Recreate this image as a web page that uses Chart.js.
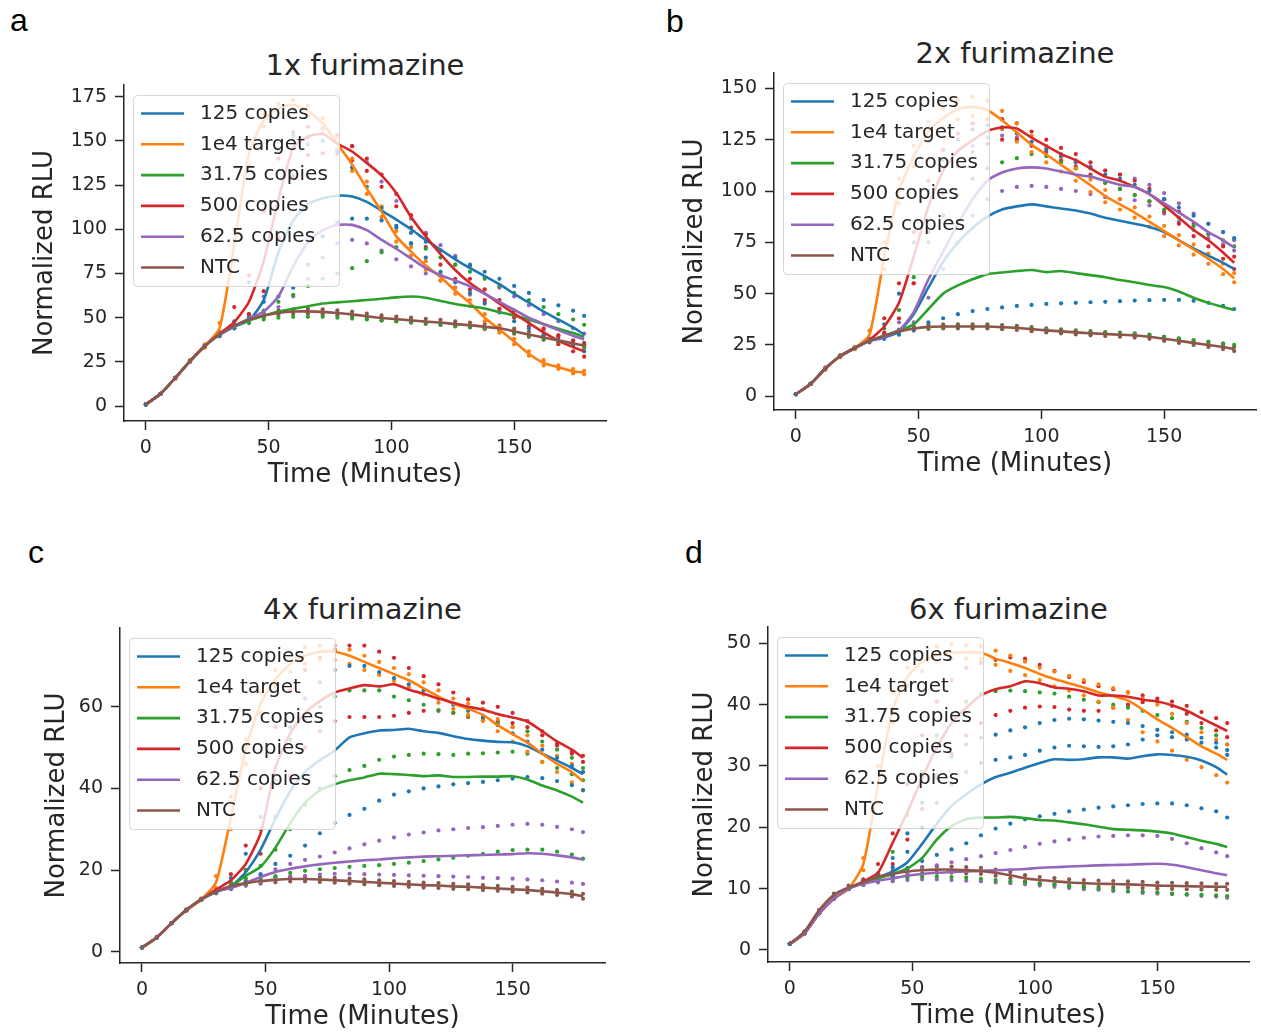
<!DOCTYPE html>
<html><head><meta charset="utf-8">
<script src="https://cdn.jsdelivr.net/npm/chart.js@4.4.1/dist/chart.umd.min.js"></script>
<style>
html,body{margin:0;padding:0;width:1261px;height:1036px;overflow:hidden;background:#fff;}
body{position:relative;font-family:"DejaVu Sans",sans-serif;}
.plet{position:absolute;font-family:"Liberation Sans",Arial,sans-serif;font-size:32px;line-height:1;color:#000;}
.ttl{position:absolute;font-family:"DejaVu Sans",sans-serif;font-size:29px;color:#262626;transform:translate(-50%,-50%);white-space:nowrap;line-height:normal;}
canvas{position:absolute;}
</style></head><body>
<div class="plet" style="left:10px;top:4px">a</div>
<div class="plet" style="left:666px;top:5px">b</div>
<div class="plet" style="left:28px;top:536px">c</div>
<div class="plet" style="left:685px;top:536px">d</div>
<script>
// ---------------- DATA ----------------
const minutes = [0,6,12,18,24,30,36,42,48,54,60,66,72,78,84,90,96,102,108,114,120,126,132,138,144,150,156,162,168,174,178.5];
const seriesNames = ['125 copies','1e4 target','31.75 copies','500 copies','62.5 copies','NTC'];
const xTicks = [0,50,100,150];
const aTicks = [0,25,50,75,100,125,150,175];
const bTicks = [0,25,50,75,100,125,150];
const cTicks = [0,20,40,60];
const dTicks = [0,10,20,30,40,50];
const panelTitles = ['1x furimazine','2x furimazine','4x furimazine','6x furimazine'];

// Panel a (1x) — mean lines
const a125 = [1,7,16,25.5,34,40.5,45,48.5,60,87,105,114,117.5,119,118.5,115.5,110.5,105.5,100,94,88.5,83,78,73.5,69,63.5,58.5,53.5,49,44.5,40.5];
const a1e4 = [1,7,16,25.5,34,44,91,143,161.5,168.5,170.4,167,160,148.4,136.6,123,110,96,87.4,79.5,73,65.3,58.3,50,43.3,36.6,29.6,24.4,22,19.7,19];
const a3175 = [1,7,16,25.5,34,40.5,45,48.5,51,53.5,55,56.5,58,58.7,59.3,60,60.7,61.5,62,61.3,59.5,57.8,56.5,55.2,53.2,51.3,49,46.3,43.7,41.3,39.2];
const a500 = [1,7,16,25.5,34,41,47.5,59,82,117,146,152.5,154,148.5,144,137.5,130.5,120.5,107,96,86,77,69.6,63.8,58,52.3,47,41.7,37,33.4,31];
const a625 = [1,7,16,25.5,34,40.5,45,49.5,53.5,62,79,92.5,99.5,102.5,102.5,99.5,94,89,83.5,78,74,71,67.7,63.5,59,54.5,50,46.5,43,39.8,37.7];
const aNTC = [1,7,16,25.5,34,40.5,45.5,49,51.3,52.7,53.5,53.6,53.3,52.7,51.9,50.8,49.8,49.2,48.5,47.8,47.3,46.4,45.8,44.9,44,42.3,40.5,38.8,37.2,35.5,34.3];
// Panel a replicates
const a125r1 = [1,7,16,25.5,34,40,44,50,59,62,67,80,96,104,106,106,105,102,98,93,88,84,80,76,72,68,64,60,57,54,51];
const a125r2 = [1,7,16,25.5,34,41,48,70,115,145,153,152,150,144,135,124,112,101,92,84,76,70,64,58,53,48,44,40,37,34,31];
const a1e4r1 = [1,7,16,26,35,47,100,150,165,171,173,170,163,152,140,127,113,99,90,82,75,67,60,52,45,38,31,26,23,21,20];
const a1e4r2 = [1,7,15.5,25,33,42,82,136,158,166,168,164,157,145,133,120,107,93,85,77,71,63.5,56.5,48,41.5,35,28.5,23,21,18.5,18];
const a3175r1 = [1,7,16,25.5,34,41,46,50,54,59,63,68,72,75,78,82,87,90,92,89,84,80,76,72,68,64,60,56,52,49,46];
const a3175r2 = [1,7,16,25.5,34,40,44,47,49,50,50.5,50.5,50.5,50,49.5,49,48.5,48,47.5,47,46,45.5,45,44,43,41.5,40,38,36.5,35,33.5];
const a500r1 = [1,7,16,25.5,34,42,56,74,110,140,155,158,157,153,147,140,131,120,108,97,88,80,72,66,60,54,49,44,40,37,35];
const a500r2 = [1,7,16,25.5,34,40.5,46,52,65,95,130,142,143,143,139,133,124,113,101,90,80,72,66,60,55,50,45,40,35,31,28];
const a625r1 = [1,7,16,25.5,34,41,46,52,62,95,130,148,154,153,147,138,127,116,106,98,91,85,79,73,67,62,57,52,48,44,41];
const a625r2 = [1,7,16,25.5,34,40,45,48.5,52,56,62,72,84,92,94,92,88,83,79,75,71,67,63,59,55,51,47,43,40,37,34];
const aNTCr1 = [1,7,16,26,34.5,41.5,46.5,50,52.5,54,54.8,55,54.8,54.2,53.4,52.3,51.3,50.7,50,49.3,48.8,47.9,47.3,46.4,45.5,43.8,42,40.3,38.7,37,35.8];
const aNTCr2 = [1,7,15.5,25,33.5,39.5,44.5,48,50.2,51.5,52.3,52.4,52,51.4,50.6,49.5,48.5,47.9,47.2,46.5,46,45.1,44.5,43.6,42.7,41,39.2,37.5,35.9,34.2,33];

// Panel b (2x) — mean lines
const b125 = [1,6,13.5,19.5,23.5,27,28.5,31.5,40,53,65.5,75,82,87.5,91,92.5,93.5,92.5,91.5,90.5,89,87,85.5,84,82.5,80,76,72,68.5,65,62];
const b1e4 = [1,6,13.5,19.5,23.5,30,68,100,117,129,135.5,140,141,139.5,134.5,128.5,122.5,117.8,112.8,107.8,102.8,97.5,93.5,89.5,85,80.5,76,71.5,67,62,57.5];
const b3175 = [1,6,13.5,19.5,23.5,27,29.5,32,35,42.5,50,54,57,59.5,60.3,61,61.5,60.5,61,60,59,58,56.6,55.5,54.2,53.2,51,48,45.5,43.5,42];
const b500 = [1,6,13.5,19.5,23.5,27.5,34,45.5,68,92.5,110,119.6,124.7,129.3,131,130.5,126,122,118,115,111,107,105,102,98.5,93,87,81,76,70,65];
const b625 = [1,6,13.5,19.5,23.5,27,29,32,41,57,70.5,84,96,105,109,111,111.5,111,109.5,108,107,105,103,102,98.5,94,89.5,85,80,76,72.5];
const bNTC = [1,6,13.5,19.5,23.5,27,29.5,31.5,33,33.8,34,34,34,34,33.7,33.3,32.7,32.1,31.6,31.1,30.7,30.3,30,29.6,29,28,27,26,25,24,23];
// Panel b replicates
const b125r1 = [1,6,13.5,19.5,23.5,27,28,30,32.5,36,38,40,41.5,42.5,43.3,44,44.5,45,45.3,45.5,45.8,46,46.3,46.6,46.8,47,47,46.5,45.5,44,42.5];
const b125r2 = [1,6,13.5,19.5,23.5,28,35,50,75,100,115,125,130,132,131,128,124,120,117,114,111,108,106,103,100,96,92,88,84,80,77];
const b1e4r1 = [1,6,14,20,24,32,75,106,122,134,140,144.5,146,144,139,133,127,122,116.5,111,105.5,100.5,96,92,87.5,83,78.5,74,69.5,64.5,60];
const b1e4r2 = [1,6,13,19,23,28,62,94,112,124,131,135,136.5,135,130,124,119,114,109.5,105,99.5,94.5,91,87,82.5,78,73.5,69,64.5,59.5,55.5];
const b3175r1 = [1,6,13.5,19.5,23.5,28,33,42,58,75,88,98,106,111,114,116,118,117,114,111,107,104,101,98,95,91,87,83,79,76,73];
const b3175r2 = [1,6,13.5,19.5,23.5,27,29,31,32.5,33.5,34,34,34,34,33.8,33.5,33,32.5,32,31.5,31.2,31,30.7,30.3,29.8,29,28.2,27.4,26.6,25.8,25];
const b500r1 = [1,6,13.5,19.5,23.5,28,38,55,80,105,120,128,133,135,135,133,129,125,121,118,114,110,108,105,101,96,90,84,79,73,68];
const b500r2 = [1,6,13.5,19.5,23.5,27,31,38,55,80,99,112,119,123,125,125,122,119,115,112,108,104,101,98,95,90,84,78,73,67,62];
const b625r1 = [1,6,13.5,19.5,23.5,28,30,36,55,80,100,115,122,126,127,126,124,121,118,115,112,110,108,106,103,99,94,89,84,80,76];
const b625r2 = [1,6,13.5,19.5,23.5,27,28.5,31,36,48,62,75,88,96,100,102,102.5,102,101,100,98.5,97,96,95.5,93,89,85,81,77,74,71];
const bNTCr1 = [1,6,14,20,24,27.8,30.3,32.5,34,34.8,35,35,35,35,34.7,34.3,33.7,33.1,32.6,32.1,31.7,31.3,31,30.6,30,29,28,27,26,25,24];
const bNTCr2 = [1,6,13,19,23,26.2,28.7,30.5,32,32.8,33,33,33,33,32.7,32.3,31.7,31.1,30.6,30.1,29.7,29.3,29,28.6,28,27,26,25,24,23,22];

// Panel c (4x) — mean lines
const c125 = [1,3.5,7,10.2,12.8,14.7,16,19.5,25,32.5,39.3,44.1,46.9,49.3,52.5,53.5,54.2,54.3,54.6,54,53.6,52.8,52.1,51.7,51.4,51.3,50.3,48.5,46.8,45,43.5];
const c1e4 = [1,3.5,7,10.2,12.8,17,33,49.5,60.8,66.7,70.5,72.5,73.5,73.5,72.5,71,69.5,68,66.5,64.5,62.5,60.8,59.5,58,55.5,53.3,51.2,48.5,46,44,41.7];
const c3175 = [1,3.5,7,10.2,12.8,14.7,16,18.6,20.8,25.5,31.5,36.5,39.5,41,42,42.7,43.6,43.5,43.3,43,43.2,42.8,42.8,42.9,42.9,43,42.2,40.7,39.5,38,36.5];
const c500 = [1,3.5,7,10.2,12.8,15.2,17.5,21.5,29,45,53.5,58.5,61.4,63.5,64.5,65.3,65,65.5,64.2,63.2,62,61,60,59.3,58.2,57.4,56.4,54,51.5,49.5,47.5];
const c625 = [1,3.5,7,10.2,12.8,14.7,15.6,16.8,18.3,19.5,20.3,20.9,21.4,21.8,22.1,22.4,22.6,22.9,23.1,23.3,23.4,23.5,23.6,23.7,23.8,23.9,24.1,24,23.6,23.1,22.6];
const cNTC = [1,3.5,7,10.2,12.8,14.7,16.1,16.8,17.3,17.6,17.8,17.8,17.7,17.5,17.3,17.1,16.9,16.7,16.5,16.3,16.2,16,15.9,15.7,15.5,15.3,15.1,14.8,14.5,14.1,13.6];
// Panel c replicates
const c125r1 = [1,3.5,7,10.2,12.8,14.5,15.5,17,19,21.5,23.5,26,29,31.5,33.5,35,37,38.5,39.3,40,40.5,41,41.3,41.6,42,42.4,42.8,42.5,41.8,40.8,39.6];
const c125r2 = [1,3.5,7,10.2,12.8,15,18,24,33,45,55,62,66,69,70,70,68.5,67,65.5,64,62,60.5,59,57.5,55.5,53.5,51.5,49.5,47.5,45.5,44];
const c1e4r1 = [1,3.5,7,10.3,13,18.5,38,52,63.5,69,72.5,74.5,75,75,74,72.5,71,69.5,68,66,64,62,60.8,59.5,57,55,53,50.5,48,46,44];
const c1e4r2 = [1,3.5,7,10.1,12.6,15.5,30,46,58.5,65,68.5,70.5,71.5,71.5,70.5,69,67.8,66.3,64.8,63,61,59.5,58,56.5,54,51.5,49,46.5,44,41.5,39.5];
const c3175r1 = [1,3.5,7,10.2,12.8,15,17,20,30,42,52,57,60,62.5,64,64,64,62.5,61.6,60.5,59.2,58.6,57.8,56.7,56,55,54,51.5,49.5,47.5,45];
const c3175r2 = [1,3.5,7,10.2,12.8,14.7,16,18,21,25,30,36,40,43,44.5,45.5,47,47.8,48.2,48.5,48.4,48.2,48.5,48.6,48.8,49,48.5,46.5,45,43.5,42];
const c3175r3 = [1,3.5,7,10.2,12.8,14.5,15.5,16.5,17.5,18.5,19.3,19.8,20.2,20.5,20.8,21,21.2,21.5,21.8,22.2,22.6,23,23.5,24,24.5,24.9,25,25,24.5,23.8,22.8];
const c500r1 = [1,3.5,7,10.2,12.8,15.5,19,26,40,55,64,69,72,74,75,75,73.5,72,69.5,67.5,65.5,63.5,61.8,61,60,58.5,56.5,54,50.5,49,48];
const c500r2 = [1,3.5,7,10.2,12.8,15,17,20,24,33,43,50,54,56.5,57.5,57.5,57.5,57.8,58.5,59,59,58.5,57.5,57,56.5,56,55,53,51,48.5,46.5];
const c625r1 = [1,3.5,7,10.2,12.8,14.7,15.8,17.2,18.8,20.2,21.5,22.5,23.3,24.3,25.3,26.3,27.2,28,28.7,29.2,29.7,30,30.3,30.5,30.8,31.1,31.3,31.1,30.6,30,29.3];
const c625r2 = [1,3.5,7,10.2,12.8,14.5,15.3,16.2,17,17.6,18.2,18.6,18.9,19.1,19.1,19,18.9,18.8,18.7,18.6,18.5,18.4,18.3,18.1,18,17.9,17.7,17.5,17.2,16.9,16.6];
const cNTCr1 = [1,3.5,7,10.4,13,15.1,16.6,17.4,17.9,18.2,18.4,18.4,18.3,18.1,17.9,17.7,17.5,17.3,17.1,16.9,16.8,16.6,16.5,16.3,16.1,15.9,15.7,15.4,15.1,14.7,14.2];
const cNTCr2 = [1,3.5,7,10,12.6,14.3,15.6,16.2,16.7,17,17.2,17.2,17.1,16.9,16.7,16.5,16.3,16.1,15.9,15.7,15.6,15.4,15.3,15.1,14.9,14.7,14.5,14.2,13.9,13.5,13];

// Panel d (6x) — mean lines
const d125 = [1,2.7,6,8.4,10,11,11.8,12.8,14.3,17.3,20.6,23.5,25.4,27,28.2,28.9,29.7,30.5,31.1,31,31.1,31.4,31.4,31.2,31.6,31.9,31.8,31.5,30.9,29.8,28.6];
const d1e4 = [1,2.7,6,8.4,10,14,27,39.2,44.5,47,48.2,48.5,48.5,48.5,47.5,46.8,46,45,44.2,43.5,42.8,42,41.4,40.7,39.2,37.6,36.2,34.7,33.2,32,31];
const d3175 = [1,2.7,6,8.4,10,11,11.7,12.4,13.3,15,18,20.2,21.3,21.6,21.6,21.7,21.5,21.2,21.1,20.8,20.5,20.1,19.7,19.6,19.5,19.3,19,18.4,17.8,17.3,16.8];
const d500 = [1,2.7,6,8.4,10,11.2,12.6,17.5,22.5,28,33,37,39.5,41.5,42.5,43,43.8,43.5,42.8,42.6,42.2,41.5,41.5,41.3,40.8,40.5,39.9,39,37.8,36.6,35.7];
const d625 = [1,2.7,6,8.4,10,10.8,11.3,11.7,12.1,12.4,12.6,12.7,12.8,12.9,13,13.1,13.2,13.4,13.5,13.6,13.7,13.8,13.85,13.9,14,14.05,13.9,13.5,13,12.5,12.2];
const dNTC = [1,3,6.5,9,10.2,11,12,12.4,12.8,13,13.1,13.1,13,12.9,12.6,12.2,11.7,11.4,11.2,11,10.9,10.8,10.75,10.7,10.6,10.5,10.45,10.4,10.35,10.3,10.3];
// Panel d replicates
const d125r1 = [1,2.7,6,8.4,10,11.2,12.5,15,19,24,28.5,31.5,33.5,34.6,35.1,35.8,36.3,37,37.5,37.7,37.6,37.4,37.2,37,36.5,35.9,35.5,35.1,34.6,33.8,32.6];
const d125r2 = [1,2.7,6,8.4,10,11,12,13.5,16,20,24,27,29,30.5,31,31.4,31.8,32.5,33,33.3,33.2,33.1,33.2,33.5,34.3,35,34.7,34.3,33.8,33,31.8];
const d125r3 = [1,2.7,6,8.4,10,10.9,11.4,12.2,13.3,14.5,15.5,16.4,17.4,18.7,19.8,20.6,21.3,21.8,22.2,22.6,22.9,23.2,23.4,23.6,23.8,23.9,23.9,23.6,23.1,22.6,21.6];
const d1e4r1 = [1,2.7,6,8.4,10,15,30,42,46,48.5,49.5,49.8,49.7,49.5,48.8,48,47,46,45.4,44.7,44,43.3,42.7,42,41,40,38.5,37,35.5,34.3,33.5];
const d1e4r2 = [1,2.7,6,8.4,10,13,24,37,43,45.5,47,47.5,47.5,47.5,46.5,45.5,44.8,44,43,42.3,41.5,40.5,39.5,37.5,35.5,34,32.5,31,29.8,28.5,27.3];
const d3175r1 = [1,2.7,6,8.4,10,11.2,12.5,16,22,29,35,38.5,40.5,41.7,42.2,42.3,42.2,42,41.8,41.3,40.8,40.4,40,39.5,39,38.3,37.8,37.2,36.2,35,33.5];
const d3175r2 = [1,2.7,6,8.4,10,10.8,11.3,11.6,11.8,12,12,11.9,11.8,11.6,11.4,11.2,11,10.8,10.6,10.4,10.2,10,9.8,9.6,9.5,9.4,9.2,9.1,9,8.9,8.8];
const d500r1 = [1,2.7,6,8.4,10,11.5,14,19,27,35,40.5,44,46,46.8,47.3,47.7,47.5,46.5,45.5,44.5,43.7,43,42.5,42,41.5,41,40.5,39.8,38.8,37.8,37];
const d500r2 = [1,2.7,6,8.4,10,11,12,14,18,23,28,32,35,37,38.3,39,39.5,39.7,39.6,39.2,39,39,39.5,40,40.4,40.5,39.8,38.5,37,35.8,34.7];
const d625r1 = [1,2.7,6,8.4,10,10.8,11.4,12,12.6,13.2,13.8,14.3,14.8,15.3,15.8,16.3,16.8,17.3,17.7,18,18.3,18.5,18.6,18.7,18.7,18.6,18.1,17.4,16.6,15.9,15.3];
const d625r2 = [1,2.7,6,8.4,10,10.6,11,11.2,11.4,11.5,11.5,11.4,11.3,11.2,11,10.9,10.7,10.5,10.3,10.1,9.9,9.8,9.6,9.5,9.3,9.2,9.1,9,8.8,8.7,8.5];
const dNTCr1 = [1,3,6.5,9.2,10.5,11.4,12.4,12.9,13.3,13.5,13.6,13.6,13.5,13.4,13.1,12.7,12.2,11.9,11.7,11.5,11.4,11.3,11.25,11.2,11.1,11,10.95,10.9,10.85,10.8,10.8];
const dNTCr2 = [1,3,6.5,8.8,9.9,10.6,11.6,12,12.3,12.5,12.6,12.6,12.5,12.4,12.1,11.7,11.2,10.9,10.7,10.5,10.4,10.3,10.25,10.2,10.1,10,9.95,9.9,9.85,9.8,9.8];

// ---------------- STYLE / LAYOUT ----------------
const colors = ['#1f77b4','#ff7f0e','#2ca02c','#d62728','#9467bd','#8c564b'];
const INK = '#262626';
const panels = [
  {means:[a125,a1e4,a3175,a500,a625,aNTC],
   reps:[[a125r1,a125r2],[a1e4r1,a1e4r2],[a3175r1,a3175r2],[a500r1,a500r2],[a625r1,a625r2],[aNTCr1,aNTCr2]],
   yTicks:aTicks, L:124,R:606,T:85,B:421, ymin:-8.4, ymax:181.6, ytPad:16, titleY:64.5},
  {means:[b125,b1e4,b3175,b500,b625,bNTC],
   reps:[[b125r1,b125r2],[b1e4r1,b1e4r2],[b3175r1,b3175r2],[b500r1,b500r2],[b625r1,b625r2],[bNTCr1,bNTCr2]],
   yTicks:bTicks, L:774,R:1256,T:73,B:410, ymin:-6.7, ymax:157.5, ytPad:15.4, titleY:53},
  {means:[c125,c1e4,c3175,c500,c625,cNTC],
   reps:[[c125r1,c125r2],[c1e4r1,c1e4r2],[c3175r1,c3175r2,c3175r3],[c500r1,c500r2],[c625r1,c625r2],[cNTCr1,cNTCr2]],
   yTicks:cTicks, L:120,R:605,T:628,B:963, ymin:-2.77, ymax:79.3, ytPad:31.4, titleY:609},
  {means:[d125,d1e4,d3175,d500,d625,dNTC],
   reps:[[d125r1,d125r2,d125r3],[d1e4r1,d1e4r2],[d3175r1,d3175r2],[d500r1,d500r2],[d625r1,d625r2],[dNTCr1,dNTCr2]],
   yTicks:dTicks, L:768,R:1249,T:627,B:962, ymin:-1.96, ymax:52.66, ytPad:31.4, titleY:609}
];
const YW = 110, XH = 80, PT = 15, PR = 10;

const legendBox = {
  id:'legendBox',
  afterDatasetsDraw(chart){
    const ctx = chart.ctx, ca = chart.chartArea;
    const x0 = ca.left + 9.5, y0 = ca.top + 10.5, w = 206, h = 191, r = 4;
    ctx.save();
    ctx.beginPath();
    ctx.moveTo(x0+r,y0); ctx.lineTo(x0+w-r,y0); ctx.quadraticCurveTo(x0+w,y0,x0+w,y0+r);
    ctx.lineTo(x0+w,y0+h-r); ctx.quadraticCurveTo(x0+w,y0+h,x0+w-r,y0+h);
    ctx.lineTo(x0+r,y0+h); ctx.quadraticCurveTo(x0,y0+h,x0,y0+h-r);
    ctx.lineTo(x0,y0+r); ctx.quadraticCurveTo(x0,y0,x0+r,y0); ctx.closePath();
    ctx.fillStyle = 'rgba(255,255,255,0.8)'; ctx.fill();
    ctx.strokeStyle = 'rgba(204,204,204,0.8)'; ctx.lineWidth = 1; ctx.stroke();
    ctx.font = '20px "DejaVu Sans"'; ctx.textBaseline = 'middle'; ctx.textAlign = 'left';
    seriesNames.forEach((n,i)=>{
      const y = y0 + 18 + i*30.8;
      ctx.strokeStyle = colors[i]; ctx.lineWidth = 2.6;
      ctx.beginPath(); ctx.moveTo(x0+7.5,y); ctx.lineTo(x0+50.5,y); ctx.stroke();
      ctx.fillStyle = INK; ctx.fillText(n, x0+66.5, y);
    });
    ctx.restore();
  }
};

panels.forEach((p, pi)=>{
  const t = document.createElement('div');
  t.className = 'ttl'; t.textContent = panelTitles[pi];
  t.style.left = ((p.L+p.R)/2)+'px'; t.style.top = p.titleY+'px';
  document.body.appendChild(t);

  const cv = document.createElement('canvas');
  const W = (p.R-p.L) + YW + PR, H = (p.B-p.T) + PT + XH;
  cv.width = W; cv.height = H;
  cv.style.width = W+'px'; cv.style.height = H+'px';
  cv.style.left = (p.L-YW)+'px'; cv.style.top = (p.T-PT)+'px';
  document.body.appendChild(cv);

  const datasets = [];
  p.reps.forEach((reps, si)=>{
    reps.forEach(arr=>{
      datasets.push({
        data: minutes.map((m,i)=>({x:m, y:arr[i]})),
        showLine:false, pointRadius:2.1, pointBorderWidth:0,
        pointBackgroundColor:colors[si], borderColor:colors[si], order:20
      });
    });
  });
  p.means.forEach((arr, si)=>{
    datasets.push({
      data: minutes.map((m,i)=>({x:m, y:arr[i]})),
      borderColor:colors[si], borderWidth:2.6, pointRadius:0, fill:false,
      tension:0.2, order: 6-si
    });
  });

  new Chart(cv, {
    type:'line',
    data:{datasets},
    options:{
      animation:false, responsive:false, devicePixelRatio:1,
      layout:{padding:{left:0,top:PT,right:PR,bottom:0}, autoPadding:false},
      plugins:{legend:{display:false}, tooltip:{enabled:false}},
      events:[],
      scales:{
        x:{type:'linear', min:-8.9, max:187.4,
          afterBuildTicks:s=>{ s.ticks = xTicks.map(v=>({value:v})); },
          afterFit:s=>{ s.height = XH; s.paddingLeft = 0; s.paddingRight = 0; s.paddingTop = 0; s.paddingBottom = 0; },
          grid:{display:true, drawOnChartArea:false, drawTicks:true, tickLength:9, tickWidth:1.5, tickColor:INK},
          border:{display:true, color:INK, width:1.5},
          ticks:{color:INK, font:{family:'DejaVu Sans', size:19}, padding:6.5, maxRotation:0, autoSkip:false},
          title:{display:true, text:'Time (Minutes)', color:INK, font:{family:'DejaVu Sans', size:26}, padding:{top:0,bottom:10.5}}
        },
        y:{type:'linear', min:p.ymin, max:p.ymax,
          afterBuildTicks:s=>{ s.ticks = p.yTicks.map(v=>({value:v})); },
          afterFit:s=>{ s.width = YW; s.paddingTop = 0; s.paddingBottom = 0; s.paddingLeft = 0; s.paddingRight = 0; },
          grid:{display:true, drawOnChartArea:false, drawTicks:true, tickLength:9, tickWidth:1.5, tickColor:INK},
          border:{display:true, color:INK, width:1.5},
          ticks:{color:INK, font:{family:'DejaVu Sans', size:19}, padding:8},
          title:{display:true, text:'Normalized RLU', color:INK, font:{family:'DejaVu Sans', size:26}, padding:{top:p.ytPad,bottom:0}}
        }
      }
    },
    plugins:[legendBox]
  });
});
</script>
</body></html>
